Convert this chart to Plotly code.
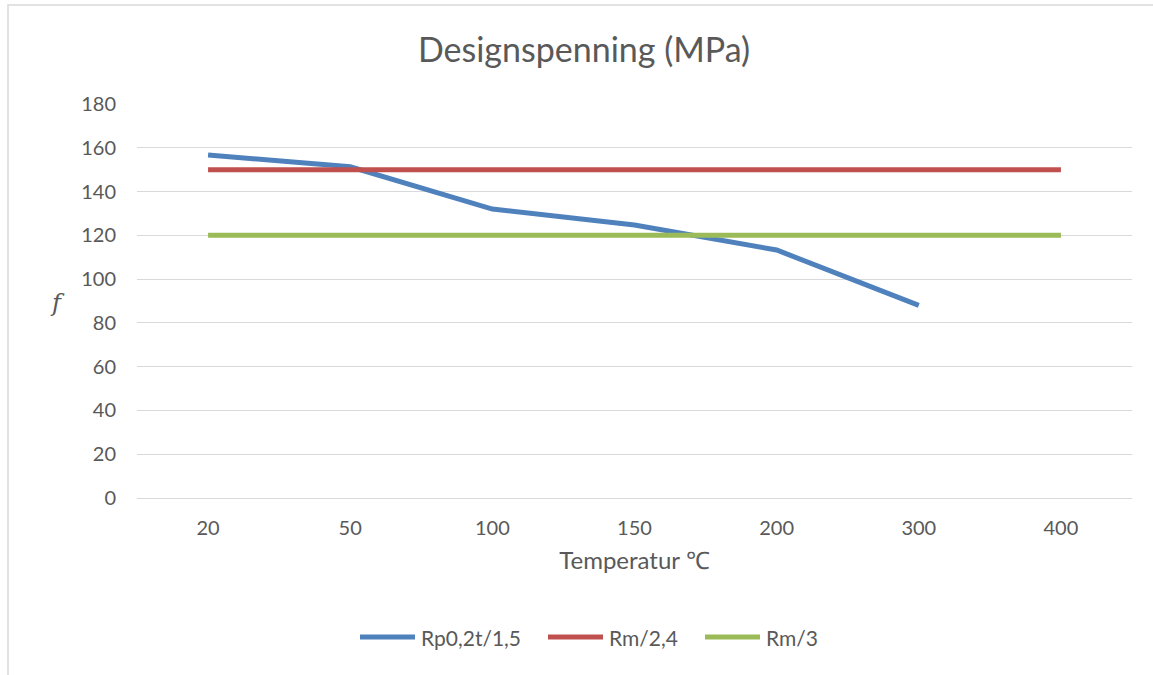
import plotly.graph_objects as go

# Temperature categories (°C) and design stresses (MPa)
temperatures = ["20", "50", "100", "150", "200", "300", "400"]
rp_values = [156.7, 151.3, 132.0, 124.7, 113.3, 88.0, None]
rm24_values = [150, 150, 150, 150, 150, 150, 150]
rm3_values = [120, 120, 120, 120, 120, 120, 120]

series_names = ["Rp0,2t/1,5", "Rm/2,4", "Rm/3"]
series_values = [rp_values, rm24_values, rm3_values]
series_colors = ["#4f81bd", "#c0504d", "#9bbb59"]

y_ticks = [0, 20, 40, 60, 80, 100, 120, 140, 160, 180]

FONT = "Lato"
TEXT = "#595959"
GRID = "#d9d9d9"

# plot-area geometry in pixels
W, H = 1153, 675
PL, PR, PT, PB = 137, 1132, 104, 498


def px_x(x):
    return (x - PL) / (PR - PL)


def px_y(y):
    return (PB - y) / (PB - PT)


fig = go.Figure()
for name, vals, col in zip(series_names, series_values, series_colors):
    fig.add_trace(go.Scatter(
        x=temperatures, y=vals, mode="lines", name=name,
        line=dict(color=col, width=5),
        connectgaps=False, showlegend=False,
    ))

fig.update_layout(
    width=W, height=H,
    margin=dict(l=PL, r=W - PR, t=PT, b=H - PB),
    paper_bgcolor="white", plot_bgcolor="white",
    font=dict(family=FONT, color=TEXT, size=20),
    title=dict(text="Designspenning (MPa)", x=584 / W, xanchor="center",
               y=1 - 50 / H, yanchor="middle",
               font=dict(family=FONT, size=34, color=TEXT)),
)

fig.update_xaxes(
    type="category", range=[-0.5, 6.5],
    showgrid=False, showline=True, linecolor=GRID, linewidth=1,
    ticks="", tickfont=dict(family=FONT, size=20, color=TEXT),
    ticklabelstandoff=12,
    title=dict(text="Temperatur ℃", font=dict(family=FONT, size=24, color=TEXT),
               standoff=14),
    zeroline=False,
)
fig.update_yaxes(
    range=[0, 180], tickvals=y_ticks,
    showgrid=True, gridcolor=GRID, gridwidth=1,
    showline=False, zeroline=False,
    ticks="", ticklabelstandoff=20,
    tickfont=dict(family=FONT, size=20, color=TEXT),
)

# y-axis label, unrotated italic f
fig.add_annotation(text="<i>f</i>", xref="paper", yref="paper",
                   x=px_x(57), y=px_y(303),
                   xanchor="center", yanchor="middle", showarrow=False,
                   font=dict(family="DejaVu Serif", size=24, color=TEXT))

# legend: swatch + label per series
legend_y = 637
legend_starts = [360, 548, 705]
swatch_len = 55
for name, col, x0 in zip(series_names, series_colors, legend_starts):
    fig.add_shape(type="line", xref="paper", yref="paper",
                  x0=px_x(x0), x1=px_x(x0 + swatch_len),
                  y0=px_y(legend_y), y1=px_y(legend_y),
                  line=dict(color=col, width=5))
    fig.add_annotation(text=name, xref="paper", yref="paper",
                       x=px_x(x0 + swatch_len + 4), y=px_y(legend_y),
                       xanchor="left", yanchor="middle", showarrow=False,
                       font=dict(family=FONT, size=21, color=TEXT))

# chart-area frame
fig.add_shape(type="rect", xref="paper", yref="paper",
              x0=px_x(8), x1=px_x(1170),
              y0=px_y(690), y1=px_y(5),
              line=dict(color=GRID, width=1.5), fillcolor="rgba(0,0,0,0)",
              layer="below")

fig.write_html("out.html")
